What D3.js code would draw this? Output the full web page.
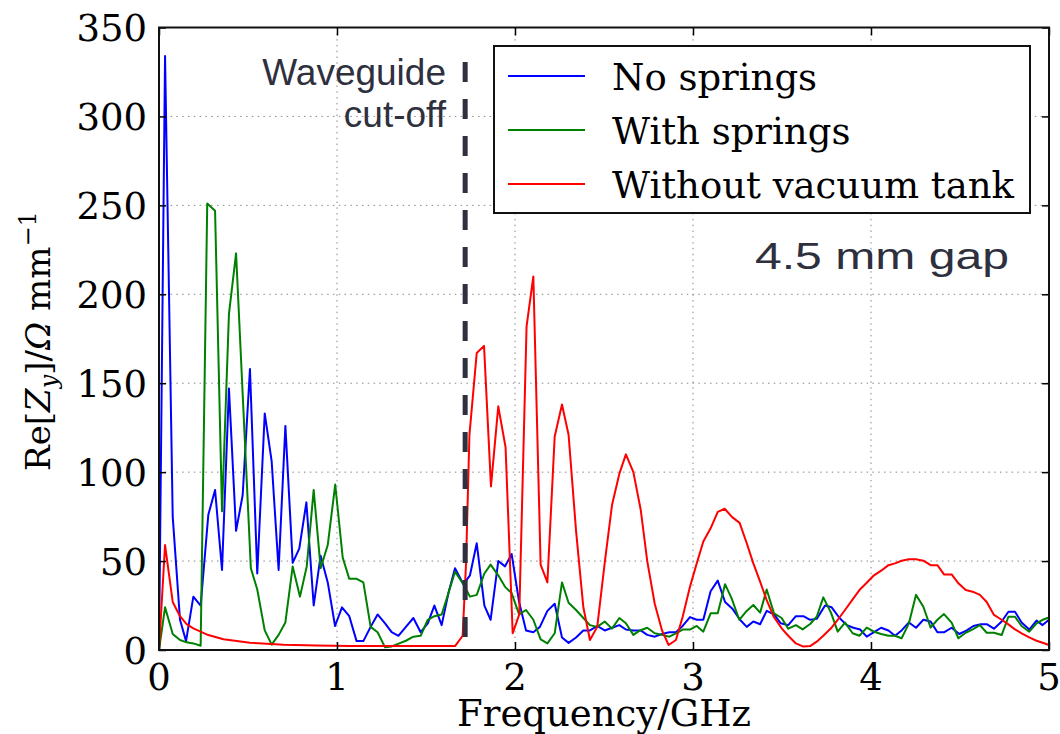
<!DOCTYPE html>
<html>
<head>
<meta charset="utf-8">
<script src="https://cdn.jsdelivr.net/npm/d3@7"></script>
<style>
  body { margin: 0; background: #fff; }
  svg { display: block; }
  .tick-label { font-family: "DejaVu Serif", serif; font-size: 37px; fill: #000; }
  .note { font-family: "Liberation Sans", Arial, sans-serif; font-size: 37px; fill: #2e303e; }
</style>
</head>
<body>
<div id="chart"></div>
<script>
// data: [frequency GHz, Re[Zy] ohm/mm]
var noSprings = [[0,0],[0.034,334],[0.077,75],[0.118,17],[0.152,5],[0.193,30],[0.234,25],[0.277,76],[0.315,90],
  [0.354,45],[0.393,147],[0.433,67],[0.470,87],[0.511,158],[0.552,43],[0.594,133],[0.633,106],[0.672,45],
  [0.710,126],[0.751,49],[0.788,57],[0.828,83],[0.869,25],[0.908,53],[0.948,38],[0.989,13.5],[1.028,24],
  [1.069,19],[1.110,5],[1.148,5],[1.189,13],[1.228,20],[1.270,15],[1.307,10],[1.345,8],[1.387,13],[1.429,18],
  [1.470,10],[1.510,15],[1.547,25],[1.588,14],[1.626,32],[1.663,46],[1.710,37],[1.747,42],[1.785,60],
  [1.828,25],[1.863,17],[1.906,50],[1.944,47],[1.981,54],[2.023,27],[2.062,11],[2.103,10],[2.140,13],
  [2.182,22],[2.223,26],[2.264,7],[2.301,4],[2.343,7],[2.384,11],[2.421,11],[2.462,13.5],[2.504,11],
  [2.545,12.5],[2.586,14],[2.623,11.5],[2.665,11],[2.706,11],[2.743,8.5],[2.785,7.5],[2.826,9],[2.867,10],
  [2.904,10],[2.942,13.5],[2.983,18.5],[3.021,17],[3.058,17],[3.099,33],[3.139,39],[3.180,27],[3.223,23],
  [3.264,17],[3.302,13],[3.339,16],[3.377,14.5],[3.414,22],[3.455,20],[3.493,15],[3.535,14],[3.578,19],
  [3.620,19],[3.658,17],[3.695,17.5],[3.742,25],[3.779,24],[3.823,18],[3.864,14],[3.901,12.5],[3.939,11.5],
  [3.976,7.5],[4.017,10],[4.057,12.5],[4.098,11],[4.135,8],[4.172,11],[4.213,15.5],[4.253,12.5],[4.294,17],
  [4.335,16],[4.373,10],[4.412,10],[4.453,12.5],[4.496,9],[4.538,11],[4.575,13.5],[4.617,14.5],[4.650,14.5],
  [4.691,12],[4.734,16],[4.772,21.5],[4.809,21.5],[4.846,15.5],[4.889,11.5],[4.930,16.5],[4.964,14],[5.0,17]];

var withSprings = [[0,0],[0.034,24],[0.077,9],[0.118,5.6],[0.155,4.3],[0.193,3.7],[0.234,2.4],[0.271,251],
  [0.315,247],[0.354,78],[0.393,189],[0.433,223],[0.516,46],[0.552,34],[0.594,11],[0.633,3],[0.672,8.5],
  [0.710,15.5],[0.751,47],[0.792,30],[0.830,47],[0.869,90],[0.908,46],[0.948,59],[0.990,93],[1.032,52],
  [1.069,40],[1.110,40],[1.148,38],[1.189,13],[1.228,10],[1.270,1.5],[1.307,2],[1.350,3.7],[1.387,5.2],
  [1.429,7.5],[1.470,8],[1.510,17],[1.547,19],[1.588,20],[1.626,32],[1.663,44],[1.710,37],[1.747,30],
  [1.785,31],[1.828,43],[1.863,48],[1.906,42],[1.944,35.5],[1.981,32],[2.023,20],[2.062,22.5],[2.103,17],
  [2.144,6],[2.182,3.7],[2.223,9.4],[2.264,38],[2.301,26.6],[2.343,22.5],[2.384,18],[2.421,14],[2.462,13],
  [2.504,16],[2.545,12],[2.586,18],[2.623,15],[2.665,8.5],[2.702,11],[2.743,12.5],[2.785,9.4],[2.826,8.5],
  [2.867,7.5],[2.904,9.4],[2.942,11.5],[2.983,11.5],[3.021,13.5],[3.058,10.3],[3.099,20.6],[3.139,20.6],
  [3.180,37],[3.217,29],[3.260,17],[3.298,21.6],[3.339,25.3],[3.377,21],[3.414,34],[3.455,20.6],[3.498,18],
  [3.535,12],[3.578,14],[3.616,11.6],[3.658,14.6],[3.695,18.7],[3.732,29.6],[3.775,21],[3.813,10.3],
  [3.854,15.4],[3.897,9.4],[3.935,8],[3.976,12.6],[4.017,10.3],[4.057,9],[4.098,8],[4.135,8],[4.172,6.6],
  [4.213,15],[4.253,31],[4.294,24.3],[4.335,12.6],[4.373,17],[4.410,20.2],[4.453,15.4],[4.491,6.6],
  [4.532,9.7],[4.571,11.6],[4.612,14],[4.650,9.7],[4.691,9.7],[4.734,8.4],[4.772,18.7],[4.809,18.7],
  [4.846,13.5],[4.889,10.3],[4.930,15],[4.964,17],[5.0,18.3]];

var noTank = [[0,0],[0.034,59],[0.077,27],[0.118,19],[0.155,14.6],[0.193,12.2],[0.277,8.4],[0.362,6],
  [0.511,4.1],[0.700,3],[0.886,2.6],[1.073,2.2],[1.260,2.2],[1.447,2.2],[1.663,2.2],[1.706,8],[1.725,49],
  [1.744,121],[1.785,167],[1.826,171],[1.865,92],[1.906,137],[1.947,114],[1.987,9.4],[2.024,20],[2.065,182],
  [2.103,210],[2.144,48],[2.182,38],[2.223,120],[2.264,138],[2.301,121],[2.343,67],[2.384,24],[2.421,5.6],
  [2.462,13],[2.504,49],[2.545,81.5],[2.586,99],[2.623,110],[2.665,100],[2.706,79],[2.743,50],[2.785,26],
  [2.826,11],[2.863,2.8],[2.904,5.6],[2.942,18.7],[2.983,35.6],[3.021,48.7],[3.058,61],[3.099,68.4],
  [3.139,77.7],[3.178,79.4],[3.220,74.7],[3.262,71.5],[3.302,60],[3.339,48.7],[3.377,38.4],[3.414,28],
  [3.455,18.4],[3.498,12.2],[3.535,8],[3.578,3.7],[3.620,1.9],[3.658,2.2],[3.695,4.7],[3.732,8],[3.775,12.2],
  [3.813,17],[3.854,22.5],[3.897,28.5],[3.935,33.7],[3.976,37.8],[4.017,42],[4.057,44.6],[4.098,47.7],
  [4.135,48.7],[4.172,50.2],[4.213,51],[4.253,51],[4.294,50.2],[4.335,47.7],[4.373,47.7],[4.410,42.5],
  [4.453,42.5],[4.491,37.5],[4.532,33.7],[4.571,32.8],[4.612,31],[4.650,27],[4.691,19.7],[4.734,17],
  [4.772,14.4],[4.809,11.6],[4.846,9.4],[4.889,7.1],[4.930,5.2],[4.964,4.1],[5.0,2.8]];

var seriesNames = ['No springs', 'With springs', 'Without vacuum tank'];
var seriesColors = ['#0000ff', '#008000', '#ff0000'];
var xTicks = [0, 1, 2, 3, 4, 5];
var yTicks = [0, 50, 100, 150, 200, 250, 300, 350];
var cutoffFreq = 1.72;

// layout
var W = 1060, H = 734;
var margin = {top: 27.5, right: 11, bottom: 84, left: 159};
var width = W - margin.left - margin.right;
var height = H - margin.top - margin.bottom;

var x = d3.scaleLinear().domain([0, 5]).range([0, width]);
var y = d3.scaleLinear().domain([0, 350]).range([height, 0]);

var line = d3.line()
  .x(function(d) { return x(d[0]); })
  .y(function(d) { return y(d[1]); });

var svg = d3.select('#chart').append('svg')
  .attr('width', W)
  .attr('height', H);
var g = svg.append('g')
  .attr('transform', 'translate(' + margin.left + ',' + margin.top + ')');

// dotted grid
var grid = g.append('g').attr('class', 'grid')
  .attr('stroke', '#888').attr('stroke-width', 1).attr('stroke-dasharray', '1.5,4.3');
grid.selectAll('.gx').data(xTicks.slice(1, -1)).enter().append('line')
  .attr('x1', function(d) { return x(d); }).attr('x2', function(d) { return x(d); })
  .attr('y1', 0).attr('y2', height);
grid.selectAll('.gy').data(yTicks.slice(1, -1)).enter().append('line')
  .attr('y1', function(d) { return y(d); }).attr('y2', function(d) { return y(d); })
  .attr('x1', 0).attr('x2', width);

// curves
var allSeries = [noSprings, withSprings, noTank];
g.append('g').selectAll('path').data(allSeries).enter().append('path')
  .attr('d', line)
  .attr('fill', 'none')
  .attr('stroke', function(d, i) { return seriesColors[i]; })
  .attr('stroke-width', 2)
  .attr('stroke-linejoin', 'round');

// waveguide cut-off marker
g.append('line')
  .attr('x1', x(cutoffFreq)).attr('x2', x(cutoffFreq))
  .attr('y1', 34.5).attr('y2', height)
  .attr('stroke', '#2e303e').attr('stroke-width', 5)
  .attr('stroke-dasharray', '20,17');

// axes: ticks inside on all four sides
var axB = d3.axisBottom(x).tickValues(xTicks).tickSize(-8).tickFormat('');
var axT = d3.axisTop(x).tickValues(xTicks).tickSize(-8).tickFormat('');
var axL = d3.axisLeft(y).tickValues(yTicks).tickSize(-7).tickFormat('');
var axR = d3.axisRight(y).tickValues(yTicks).tickSize(-7).tickFormat('');
g.append('g').attr('transform', 'translate(0,' + height + ')').call(axB);
g.append('g').call(axT);
g.append('g').call(axL);
g.append('g').attr('transform', 'translate(' + width + ',0)').call(axR);
g.selectAll('.domain').remove();
g.selectAll('.tick line').attr('stroke', '#000').attr('stroke-width', 1.5);

g.append('rect')
  .attr('width', width).attr('height', height)
  .attr('fill', 'none').attr('stroke', '#111').attr('stroke-width', 2);

// tick labels
g.selectAll('.xl').data(xTicks).enter().append('text')
  .attr('class', 'tick-label')
  .attr('x', function(d) { return x(d); })
  .attr('y', height + 40)
  .attr('text-anchor', 'middle')
  .text(function(d) { return d; });
g.selectAll('.yl').data(yTicks).enter().append('text')
  .attr('class', 'tick-label')
  .attr('x', -12)
  .attr('y', function(d) { return y(d) + 13.5; })
  .attr('text-anchor', 'end')
  .text(function(d) { return d; });

// axis titles
svg.append('text')
  .attr('class', 'tick-label')
  .attr('x', margin.left + width / 2)
  .attr('y', 726)
  .attr('text-anchor', 'middle')
  .text('Frequency/GHz');

var yt = svg.append('text')
  .attr('class', 'tick-label')
  .attr('transform', 'translate(50,341) rotate(-90)')
  .attr('text-anchor', 'middle')
  .style('font-size', '34px');
yt.append('tspan').text('Re[');
yt.append('tspan').style('font-style', 'italic').text('Z');
yt.append('tspan').style('font-style', 'italic').style('font-size', '24px').attr('dy', 7).text('y');
yt.append('tspan').attr('dy', -7).text(']/');
yt.append('tspan').style('font-style', 'italic').text('Ω');
yt.append('tspan').text(' mm');
yt.append('tspan').style('font-size', '24px').attr('dy', -14).text('−1');

// annotations
svg.append('text').attr('class', 'note')
  .attr('x', 446).attr('y', 85).attr('text-anchor', 'end').text('Waveguide');
svg.append('text').attr('class', 'note')
  .attr('x', 446).attr('y', 127).attr('text-anchor', 'end').text('cut-off');
svg.append('text').attr('class', 'note')
  .attr('x', 755).attr('y', 269)
  .attr('textLength', 254).attr('lengthAdjust', 'spacingAndGlyphs')
  .text('4.5 mm gap');

// legend
var legend = svg.append('g').attr('class', 'legend');
legend.append('rect')
  .attr('x', 494).attr('y', 46).attr('width', 536).attr('height', 167)
  .attr('fill', '#fff').attr('stroke', '#111').attr('stroke-width', 2);
var item = legend.selectAll('.item').data(seriesNames).enter().append('g')
  .attr('transform', function(d, i) { return 'translate(0,' + (89.5 + i * 54) + ')'; });
item.append('line')
  .attr('x1', 508).attr('x2', 585).attr('y1', -13.5).attr('y2', -13.5)
  .attr('stroke', function(d, i) { return seriesColors[i]; })
  .attr('stroke-width', 2);
item.append('text')
  .attr('class', 'tick-label')
  .attr('x', 612)
  .text(function(d) { return d; });
</script>
</body>
</html>
